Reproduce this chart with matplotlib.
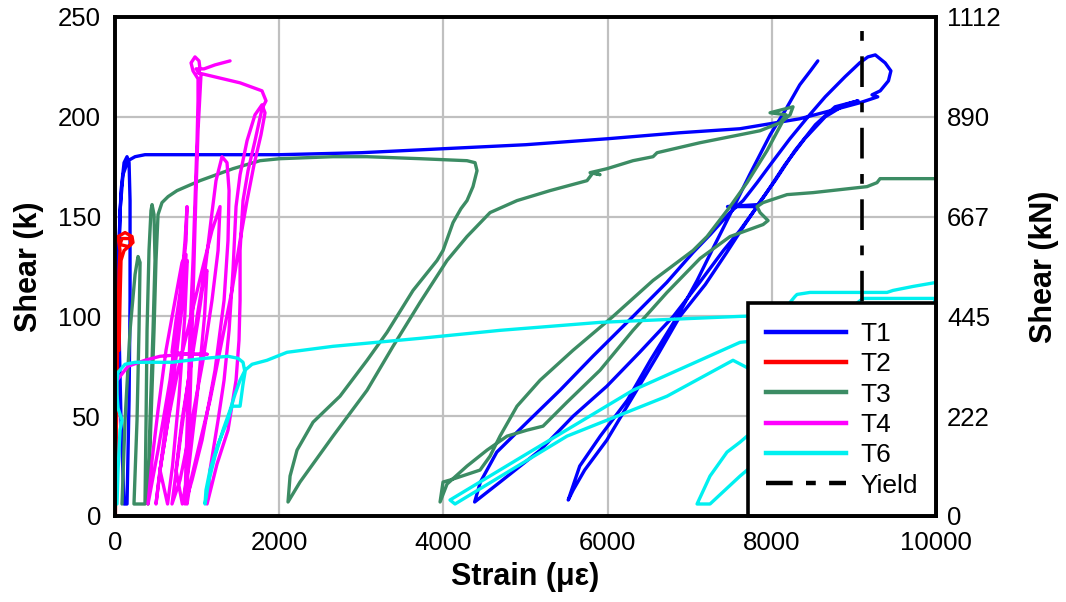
import matplotlib
matplotlib.use("Agg")
import matplotlib.pyplot as plt
from matplotlib.lines import Line2D

plt.rcParams['font.family'] = ['Liberation Sans', 'DejaVu Sans']

# ---- test records: strain (microstrain) vs. shear (kips) ----
t1_strain = [0, 12, 24, 37, 49, 73, 110, 146, 171, 183, 183, 171, 146, 110, 73, 49, 49, 61, 97, 158,
             244, 365, 1035, 2000, 3000, 4000, 5000, 6000, 6880, 7610, 8340, 8710, 9070, 9290, 9220,
             9320, 9420, 9450, 9380, 9320, 9260, 9170, 9070, 8890, 8650, 8440, 8220, 8000, 7820, 7650,
             7490, 7250, 7040, 6720, 6310, 5820, 5420, 5020, 4650, 4450, 4380,
             4690, 5180, 5580, 5990, 6390, 6800, 7120, 7410, 7610, 7820, 7460, 7830, 8040, 8280, 8530,
             8770, 9050,
             8890, 8650, 8400, 8160, 7920, 7670, 7450, 7190, 6880, 6600, 6310, 5990, 5720, 5580, 5520,
             5660, 5910, 6240, 6520, 6850, 7090, 7270, 7490, 7730, 7980, 8160, 8340, 8470, 8560]
t1_shear = [0, 33, 68, 108, 138, 163, 177, 180, 177, 158, 108, 58, 6, 6, 48, 93, 128, 153, 171, 178,
            180, 181, 181, 181, 182, 184, 186, 189, 192, 194, 199, 203, 207, 210, 211,
            213, 218, 223, 227, 229, 231, 230, 227, 220, 210, 200, 189, 177, 167, 158,
            152, 141, 132, 117, 100, 80, 63, 47, 32, 17, 7,
            17, 33, 50, 65, 82, 100, 117, 133, 143, 155, 155, 156, 168, 183, 196,
            205, 208,
            206, 200, 189, 176, 161, 146, 132, 116, 100, 80, 60, 38, 23, 13, 8,
            25, 40, 58, 78, 100, 118, 133, 151, 171, 191, 203, 216, 223, 228]

t2_strain = [5, 15, 24, 37, 49, 61, 37, 122, 207, 219, 158, 61, 85, 183, 195, 110, 73, 61, 49]
t2_shear = [0, 40, 68, 98, 123, 133, 140, 142, 140, 137, 135, 136, 139, 139, 136, 133, 128, 108, 83]

t3_strain = [85, 122, 183, 244, 280, 305, 292, 268, 231, 365, 378, 390, 414, 438, 451, 475, 487, 463,
             426, 402, 438, 475, 499, 524, 572, 646, 755, 1035, 1437, 1766, 2010, 2655, 3070, 3715,
             4287, 4385, 4409, 4360, 4287, 4214, 4117, 3995, 3922, 3630, 3313, 3070, 2740, 2412, 2217,
             2132, 2107, 2253, 2655, 3070, 3386, 3715, 4044, 4287, 4568, 4896, 5298, 5749, 5822, 5907,
             5786, 5993, 6309, 6553, 6602, 7125, 7613, 7856, 8100, 8173, 7978, 8258, 8222, 8136, 7941,
             7698, 7491, 7211, 7040, 6553, 6066, 5578, 5177, 4896, 4689, 4568, 4446, 4080, 3995, 3959,
             4044, 4287, 4531, 4775, 5018, 5213, 5505, 5907, 6309, 6723, 7125, 7491, 7893, 7954, 7856,
             7820, 7893, 8185, 8502, 9159, 9281, 9318, 9720, 10000]
t3_shear = [6, 48, 93, 121, 130, 127, 93, 48, 6, 6, 48, 93, 133, 153, 156, 151, 128, 93,
            48, 6, 48, 93, 128, 151, 157, 160, 163, 168, 174, 178, 179, 180, 180, 179,
            178, 177, 173, 165, 158, 154, 147, 133, 128, 113, 92, 78, 60, 47, 33,
            20, 7, 17, 40, 63, 85, 107, 128, 140, 152, 158, 163, 168, 172, 171,
            172, 174, 178, 180, 182, 187, 191, 193, 197, 201, 202, 205, 201, 198, 183,
            167, 155, 140, 133, 118, 100, 83, 68, 55, 40, 30, 23, 18, 17, 7,
            16, 25, 33, 40, 43, 45, 57, 73, 93, 112, 129, 140, 146, 148, 152,
            155, 157, 161, 162, 165, 167, 169, 169, 169]

t4_strain = [24, 158, 365, 548, 853, 1121, 914, 694,
             743, 816, 865, 877, 853, 792, 670, 524, 402,
             451, 524, 621, 731, 816, 865, 840, 755, 646, 548, 499,
             600, 700, 790, 850, 880, 850, 780, 700, 640,
             548, 646, 767, 914, 1060, 1181, 1279, 1255, 1181, 1072, 914, 792, 694,
             800, 900, 1000, 1080, 1120, 1090, 1000, 900, 820,
             743, 816, 914, 1011, 1096, 1169, 1230, 1303, 1364, 1389, 1376, 1328, 1218, 1060, 938, 853,
             865, 889, 914, 950, 974, 999, 1011, 1011, 950, 926, 974, 1023, 1035, 1011, 1218, 1523,
             1790, 1839, 1790, 1705, 1620, 1559, 1523, 1523, 1510, 1474, 1376, 1242, 1121,
             1157, 1255, 1328, 1389, 1437, 1474, 1523, 1608, 1705, 1790, 1827, 1778, 1693, 1608, 1523,
             1425, 1303, 1157, 1011, 914, 877,
             889, 914, 938, 962, 987, 1011, 1035, 1047, 987, 1084, 1218, 1401]
t4_shear = [68, 75, 78, 80, 81, 81, 81, 82,
            98, 118, 138, 155, 138, 108, 68, 33, 6,
            28, 53, 83, 108, 127, 131, 113, 83, 48, 23, 6,
            40, 75, 105, 125, 128, 100, 60, 25, 6,
            23, 48, 73, 98, 123, 143, 155, 133, 108, 78, 43, 18, 6,
            40, 70, 100, 120, 123, 100, 60, 25, 6,
            23, 48, 73, 98, 123, 148, 168, 180, 177, 163, 138, 108, 73, 38, 18, 6,
            28, 58, 93, 128, 158, 188, 208, 219, 223, 227, 230, 228, 224, 222, 220, 217,
            213, 208, 204, 188, 173, 158, 133, 108, 88, 68, 43, 26, 6,
            23, 48, 68, 93, 123, 155, 171, 188, 201, 206, 202, 191, 176, 158, 138,
            113, 88, 58, 33, 16, 6,
            28, 58, 93, 128, 163, 193, 211, 221, 224, 224, 226, 228]

t6_strain = [24, 37, 61, 85, 37, 24, 24, 37, 122, 244, 694, 1096, 1376, 1498, 1559, 1583, 1559, 1523,
             1425, 1364, 1255, 1157, 1108, 1096, 1145, 1218, 1315, 1401, 1462, 1523, 1583, 1669, 1851,
             2095, 2655, 3715, 4689, 5907, 7613, 8343, 8952, 9111, 9990, 9950, 8800, 7856, 7613, 6309,
             5091, 4080, 4141, 5505, 6723, 7527, 7900, 7856, 7698, 7613, 7454, 7247, 7089, 7125, 7247,
             7613, 7900, 8500, 8222, 8282, 8307, 8465, 9403, 9476, 9720, 10000]
t6_shear = [6, 23, 43, 48, 54, 61, 68, 72, 76, 77, 77, 79, 80, 79, 77, 72, 66, 55,
            55, 47, 36, 23, 13, 6, 18, 30, 43, 53, 61, 68, 73, 76, 78,
            82, 85, 89, 93, 97, 100, 101, 104, 109, 109, 100, 95, 88, 87, 63,
            33, 8, 6, 40, 60, 78, 70, 42, 40, 37, 32, 20, 6, 6, 6,
            20, 30, 80, 107, 110, 111, 112, 112, 113, 115, 117]

yield_strain = 9100
kips_to_kN = 4.448

series = [
    ("T1", t1_strain, t1_shear, "#0000FF"),
    ("T2", t2_strain, t2_shear, "#FF0000"),
    ("T3", t3_strain, t3_shear, "#3C8C64"),
    ("T4", t4_strain, t4_shear, "#FF00FF"),
    ("T6", t6_strain, t6_shear, "#00F0F0"),
]

fig = plt.figure(figsize=(10.66, 6.02), dpi=100)
ax = fig.add_axes([0.1079, 0.1429, 0.7702, 0.8289])

handles = []
for name, xs, ys, col in series:
    ax.plot(xs, ys, color=col, lw=2.4, solid_joinstyle="round", solid_capstyle="round")
    handles.append(Line2D([], [], color=col, lw=3.2, label=name))

yield_dashes = (8.5, 4.3, 2.7, 4.3)
ax.axvline(yield_strain, color="black", lw=2.6, dashes=yield_dashes)
handles.append(Line2D([], [], color="black", lw=3.2, dashes=(6, 3, 2.2, 3), label="Yield"))

ax.set_xlim(0, 10000)
ax.set_ylim(0, 250)
ax.set_xticks(range(0, 10001, 2000))
ax.set_yticks(range(0, 251, 50))
ax.grid(True, color="#c0c0c0", lw=1.6)
ax.set_axisbelow(True)
ax.tick_params(length=0, labelsize=18.5)
ax.tick_params(axis="x", pad=11)
ax.tick_params(axis="y", pad=10)
for sp in ax.spines.values():
    sp.set_linewidth(2.6)
    sp.set_color("black")

ax.set_xlabel("Strain (με)", fontsize=22, fontweight="bold", labelpad=5)
ax.set_ylabel("Shear (k)", fontsize=22, fontweight="bold", labelpad=10)

ax2 = ax.twinx()
ax2.set_ylim(0, 250)
kip_ticks = list(range(0, 251, 50))
ax2.set_yticks(kip_ticks)
ax2.set_yticklabels([f"{v * kips_to_kN:.0f}" for v in kip_ticks])
ax2.tick_params(length=0, labelsize=18.5, pad=8)
for sp in ax2.spines.values():
    sp.set_linewidth(2.6)
ax2.set_ylabel("Shear (kN)", fontsize=22, fontweight="bold", labelpad=20)

leg = ax.legend(handles=handles, loc="lower right", borderaxespad=0, fancybox=False,
                framealpha=1, edgecolor="black", fontsize=19, handlelength=3.0,
                handletextpad=0.55, labelspacing=0.24, borderpad=0.7)
leg.get_frame().set_linewidth(2.6)

fig.savefig("out.png", dpi=100)
